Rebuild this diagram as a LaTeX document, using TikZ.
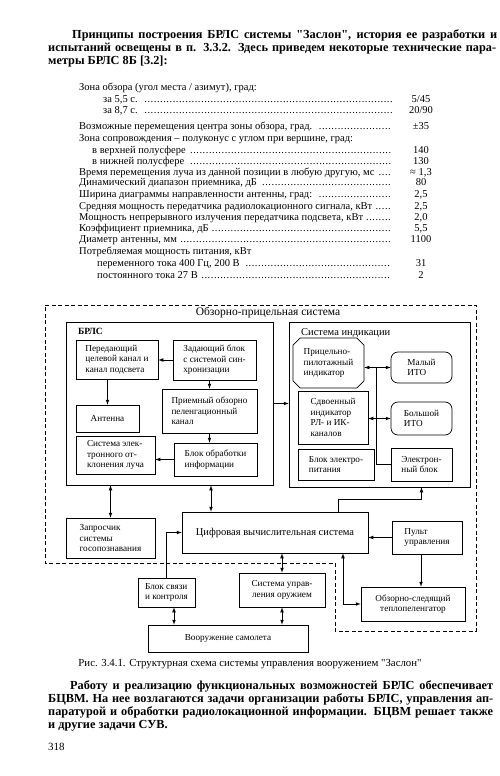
\documentclass[tikz,border=0pt]{standalone}
\usepackage{fontspec}
\setmainfont{Liberation Serif}
\newfontfamily\plainserif{Liberation Serif}
\usetikzlibrary{shapes.misc}

\tikzset{
  box/.style={draw, line width=0.7pt, align=left, inner sep=2pt,
    font=\fontsize{9.2}{10.5}\selectfont},
  itobox/.style={box, rounded corners=7pt},
  frame/.style={draw, line width=0.7pt},
  arr/.style={->, line width=0.7pt},
  darr/.style={<->, line width=0.7pt},
  spec/.style={font=\fontsize{10.5}{11.5}\selectfont, inner sep=0pt},
  para/.style={font=\plainserif\bfseries\fontsize{12.3}{12.5}\selectfont, inner sep=0pt, anchor=base west},
}

% one line of the parameter list: name, x, y, text, value
\newcommand{\specrow}[5]{%
  \node[spec, anchor=base west] (#1) at (#2,#3)
    {\makebox[\dimexpr 393pt-#2pt\relax][l]{#4 \leaders\hbox to 0.3em{\hss.\hss}\hfill}};
  \node[spec, anchor=base] (#1v) at (421,#3) {#5};}

\begin{document}
\begin{tikzpicture}[x=1pt, y=-1pt, >=latex]
  \useasboundingbox[fill=white] (0,0) rectangle (500,776);

  % text above the figure
  \node[para] (p1) at (72,39) {\makebox[425pt][s]{Принципы построения БРЛС системы "Заслон", история ее разработки и}};
  \node[para] (p2) at (48,52) {\makebox[448pt][s]{испытаний освещены в п. 3.3.2. Здесь приведем некоторые технические пара-}};
  \node[para] (p3) at (48,64) {метры БРЛС 8Б [3.2]:};

  \node[spec, anchor=base west] (zona) at (79,90) {Зона обзора (угол места / азимут), град:};
  \specrow{r1}{103}{102}{за 5,5 с.}{5/45}
  \specrow{r2}{103}{113}{за 8,7 с.}{20/90}
  \specrow{r3}{79}{129}{Возможные перемещения центра зоны обзора, град.}{±35}
  \node[spec, anchor=base west] (zsop) at (79,141) {Зона сопровождения – полуконус с углом при вершине, град:};
  \specrow{r4}{92}{153}{в верхней полусфере}{140}
  \specrow{r5}{92}{164}{в нижней полусфере}{130}
  \specrow{r6}{79}{175}{Время перемещения луча из данной позиции в любую другую, мс}{≈ 1,3}
  \specrow{r7}{79}{185}{Динамический диапазон приемника, дБ}{80}
  \specrow{r8}{79}{197}{Ширина диаграммы направленности антенны, град:}{2,5}
  \specrow{r9}{79}{209}{Средняя мощность передатчика радиолокационного сигнала, кВт}{2,5}
  \specrow{r10}{79}{220}{Мощность непрерывного излучения передатчика подсвета, кВт}{2,0}
  \specrow{r11}{79}{231}{Коэффициент приемника, дБ}{5,5}
  \specrow{r12}{79}{242}{Диаметр антенны, мм}{1100}
  \node[spec, anchor=base west] (potr) at (79,254) {Потребляемая мощность питания, кВт};
  \specrow{r13}{97}{266}{переменного тока 400 Гц, 200 В}{31}
  \specrow{r14}{97}{278}{постоянного тока 27 В}{2}

  % the figure
  \draw[line width=0.7pt, dash pattern=on 4pt off 2.5pt]
    (45,305) -- (476,305) -- (476,631) -- (335,631) -- (335,563) -- (45,563) -- cycle;
  \node[font=\fontsize{11.5}{12}\selectfont] (ops) at (268,313) {Обзорно-прицельная система};

  \node[frame, minimum width=207, minimum height=163] (brls) at (169.5,403.5) {};
  \node[anchor=west, inner sep=0pt, font=\bfseries\fontsize{9.5}{10}\selectfont] (brlsl) at (78,331) {БРЛС};
  \node[box, minimum width=82, minimum height=39] (pered) at (117,359.5) {Передающий\\целевой канал и\\канал подсвета};
  \node[box, minimum width=83, minimum height=40] (zad) at (214.5,360) {Задающий блок\\с системой син-\\хронизации};
  \node[box, minimum width=95, minimum height=44] (prm) at (209.5,411) {Приемный обзорно\\пеленгационный\\канал};
  \node[box, minimum width=63, minimum height=27] (ant) at (107.5,418.5) {Антенна};
  \node[box, minimum width=79, minimum height=38] (seol) at (115.5,455) {Система элек-\\тронного от-\\клонения луча};
  \node[box, minimum width=83, minimum height=33] (obr) at (215.5,459.5) {Блок обработки\\информации};

  \node[frame, minimum width=181, minimum height=165] (ind) at (379.5,404.5) {};
  \node[anchor=west, inner sep=0pt, font=\fontsize{10.5}{11}\selectfont] (indl) at (301,333) {Система индикации};
  \node[box, chamfered rectangle, chamfered rectangle xsep=4pt,
    minimum width=71, minimum height=50] (ppi) at (328.5,363) {Прицельно-\\пилотажный\\индикатор};
  \node[itobox, minimum width=61, minimum height=31] (mito) at (421.5,367.5) {Малый\\ИТО};
  \node[box, minimum width=70, minimum height=53] (sdv) at (333,417.5) {Сдвоенный\\индикатор\\РЛ- и ИК-\\каналов};
  \node[itobox, minimum width=61, minimum height=33] (bito) at (421.5,418.5) {Большой\\ИТО};
  \node[box, minimum width=76, minimum height=31] (bep) at (336,464.5) {Блок электро-\\питания};
  \node[box, minimum width=61, minimum height=33] (eblk) at (421.5,464.5) {Электрон-\\ный блок};

  \node[box, align=center, minimum width=186, minimum height=41,
    font=\fontsize{10.5}{11}\selectfont] (cvs) at (275,532.5) {Цифровая вычислительная система};
  \node[box, minimum width=89, minimum height=40] (zapr) at (110.5,538) {Запросчик\\системы\\госопознавания};
  \node[box, minimum width=70, minimum height=33] (pult) at (427,537.5) {Пульт\\управления};
  \node[box, align=center, minimum width=104, minimum height=34] (tpl) at (413,604) {Обзорно-следящий\\теплопеленгатор};
  \node[box, minimum width=57, minimum height=29] (bsk) at (166.5,592.5) {Блок связи\\и контроля};
  \node[box, align=center, minimum width=86, minimum height=34] (suo) at (282,590) {Система управ-\\ления оружием};
  \node[box, align=center, minimum width=160, minimum height=27] (vsam) at (228,638.5) {Вооружение самолета};

  % connections inside БРЛС
  \draw[arr] (zad.west) -- (zad.west -| pered.east);
  \draw[arr] (prm.north |- zad.south) -- (prm.north);
  \draw[arr] (ant.north |- pered.south) -- (ant.north);
  \draw[arr] (prm.south) -- (prm.south |- obr.north);
  \draw[arr] (obr.west) -- (obr.west -| seol.east);
  \draw[arr] (brls.east) -- (brls.east -| ind.west);

  % connections inside the indication system
  \draw[darr] (mito.west -| ppi.east) -- (mito.west);
  \draw[darr] (bito.west -| sdv.east) -- (bito.west);
  \draw[line width=0.7pt] (eblk.west) -| ([xshift=-14pt]mito.west);

  % links of the computer
  \draw[darr] (zapr.north |- brls.south) -- (zapr.north);
  \draw[darr] ([xshift=-64pt]cvs.north |- brls.south) -- ([xshift=-64pt]cvs.north);
  \draw[arr] ([xshift=63pt]cvs.north) -- ++(0,-12) -| (eblk.south |- ind.south);
  \draw[arr] (pult.west) -- (pult.west -| cvs.east);
  \draw[arr] ([xshift=-6pt]pult.south) -- ([xshift=-6pt]pult.south |- tpl.north);
  \draw[darr] ([xshift=68pt]cvs.south) |- (tpl.west);
  \draw[darr] (suo.north |- cvs.south) -- (suo.north);
  \draw[arr] (bsk.north) |- (cvs.west);
  \draw[darr] ([xshift=7.5pt]bsk.south) -- ([xshift=7.5pt]bsk.south |- vsam.north);
  \draw[darr] (suo.south) -- (suo.south |- vsam.north);

  \node[anchor=base, inner sep=0pt, font=\plainserif\fontsize{10.8}{11}\selectfont] (cap) at (250,666)
    {Рис. 3.4.1. Структурная схема системы управления вооружением "Заслон"};

  % text below the figure
  \node[para] (q1) at (70,689) {\makebox[423pt][s]{Работу и реализацию функциональных возможностей БРЛС обеспечивает}};
  \node[para] (q2) at (48,702) {\makebox[445pt][s]{БЦВМ. На нее возлагаются задачи организации работы БРЛС, управления ап-}};
  \node[para] (q3) at (48,715) {\makebox[445pt][s]{паратурой и обработки радиолокационной информации. БЦВМ решает также}};
  \node[para] (q4) at (48,728) {и другие задачи СУВ.};
  \node[para, font=\plainserif\fontsize{11}{12}\selectfont] (pnum) at (48,750) {318};
\end{tikzpicture}
\end{document}
